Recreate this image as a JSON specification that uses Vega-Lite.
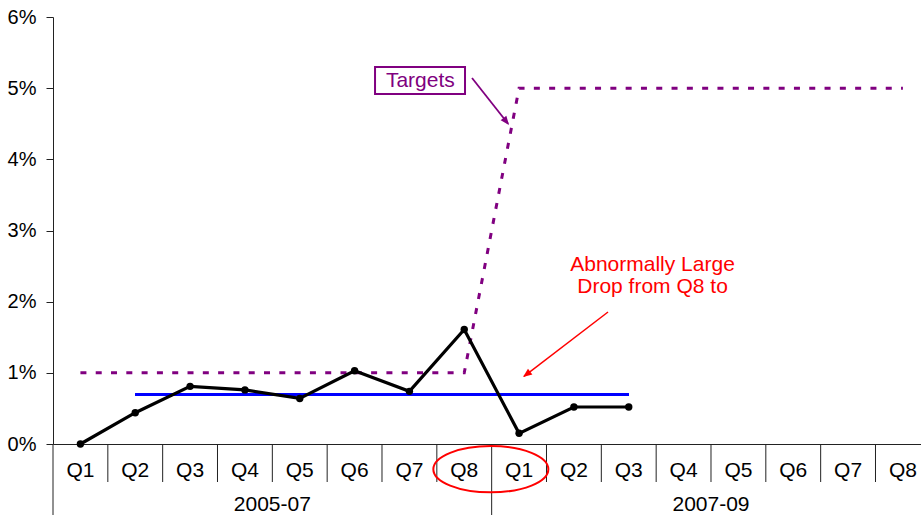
{
  "$schema": "https://vega.github.io/schema/vega-lite/v6.json",
  "width": 868,
  "height": 427,
  "autosize": {"type": "none"},
  "padding": {"left": 53, "top": 17, "right": 0, "bottom": 71},
  "background": "white",
  "config": {"font": "Liberation Sans", "view": {"stroke": null}},
  "datasets": {
    "quarters": [
      {"period": "2005-07", "quarter": "Q1", "pos": 0.5, "actual": 0.0, "target": 1},
      {"period": "2005-07", "quarter": "Q2", "pos": 1.5, "actual": 0.44, "target": 1},
      {"period": "2005-07", "quarter": "Q3", "pos": 2.5, "actual": 0.81, "target": 1},
      {"period": "2005-07", "quarter": "Q4", "pos": 3.5, "actual": 0.76, "target": 1},
      {"period": "2005-07", "quarter": "Q5", "pos": 4.5, "actual": 0.64, "target": 1},
      {"period": "2005-07", "quarter": "Q6", "pos": 5.5, "actual": 1.03, "target": 1},
      {"period": "2005-07", "quarter": "Q7", "pos": 6.5, "actual": 0.74, "target": 1},
      {"period": "2005-07", "quarter": "Q8", "pos": 7.5, "actual": 1.61, "target": 1},
      {"period": "2007-09", "quarter": "Q1", "pos": 8.5, "actual": 0.15, "target": 5},
      {"period": "2007-09", "quarter": "Q2", "pos": 9.5, "actual": 0.52, "target": 5},
      {"period": "2007-09", "quarter": "Q3", "pos": 10.5, "actual": 0.52, "target": 5},
      {"period": "2007-09", "quarter": "Q4", "pos": 11.5, "actual": null, "target": 5},
      {"period": "2007-09", "quarter": "Q5", "pos": 12.5, "actual": null, "target": 5},
      {"period": "2007-09", "quarter": "Q6", "pos": 13.5, "actual": null, "target": 5},
      {"period": "2007-09", "quarter": "Q7", "pos": 14.5, "actual": null, "target": 5},
      {"period": "2007-09", "quarter": "Q8", "pos": 15.5, "actual": null, "target": 5}
    ],
    "bounds": [
      {"b": 0, "type": "period"},
      {"b": 1, "type": "quarter"},
      {"b": 2, "type": "quarter"},
      {"b": 3, "type": "quarter"},
      {"b": 4, "type": "quarter"},
      {"b": 5, "type": "quarter"},
      {"b": 6, "type": "quarter"},
      {"b": 7, "type": "quarter"},
      {"b": 8, "type": "period"},
      {"b": 9, "type": "quarter"},
      {"b": 10, "type": "quarter"},
      {"b": 11, "type": "quarter"},
      {"b": 12, "type": "quarter"},
      {"b": 13, "type": "quarter"},
      {"b": 14, "type": "quarter"},
      {"b": 15, "type": "quarter"}
    ],
    "periods": [
      {"period": "2005-07", "center": 4},
      {"period": "2007-09", "center": 12}
    ]
  },
  "layer": [
    {
      "data": {"name": "bounds"},
      "transform": [{"filter": "datum.type === 'quarter'"}],
      "mark": {"type": "rule", "color": "#222222", "strokeWidth": 1},
      "encoding": {
        "x": {"field": "b", "type": "quantitative", "scale": {"domain": [0, 15.83], "nice": false, "zero": false},
              "axis": {"labels": false, "ticks": false, "grid": false, "domain": true, "domainColor": "#222222", "title": null}},
        "y": {"datum": 0, "type": "quantitative", "scale": {"domain": [0, 6], "nice": false},
              "axis": {"values": [0, 1, 2, 3, 4, 5, 6], "labelExpr": "datum.value + '%'", "grid": false, "domainColor": "#222222", "tickColor": "#222222", "tickSize": 7, "labelPadding": 10, "labelFontSize": 20, "labelColor": "black", "title": null}},
        "y2": {"datum": -0.534}
      }
    },
    {
      "data": {"name": "bounds"},
      "transform": [{"filter": "datum.type === 'period'"}],
      "mark": {"type": "rule", "color": "#222222", "strokeWidth": 1},
      "encoding": {
        "x": {"field": "b", "type": "quantitative"},
        "y": {"datum": 0, "type": "quantitative"},
        "y2": {"datum": -1}
      }
    },
    {
      "data": {"name": "quarters"},
      "mark": {"type": "text", "fontSize": 21, "color": "black", "baseline": "alphabetic", "align": "center", "dy": 33},
      "encoding": {
        "x": {"field": "pos", "type": "quantitative"},
        "y": {"datum": 0, "type": "quantitative"},
        "text": {"field": "quarter"}
      }
    },
    {
      "data": {"name": "periods"},
      "mark": {"type": "text", "fontSize": 21, "color": "black", "baseline": "alphabetic", "align": "center", "dy": 67},
      "encoding": {
        "x": {"field": "center", "type": "quantitative"},
        "y": {"datum": 0, "type": "quantitative"},
        "text": {"field": "period"}
      }
    },
    {
      "data": {"name": "quarters"},
      "mark": {"type": "line", "color": "#800080", "strokeWidth": 3, "strokeDash": [6, 9.3]},
      "encoding": {
        "x": {"field": "pos", "type": "quantitative"},
        "y": {"field": "target", "type": "quantitative"}
      }
    },
    {
      "data": {"name": "quarters"},
      "mark": {"type": "rule", "color": "#0000FF", "strokeWidth": 2.3},
      "encoding": {
        "x": {"datum": 1.5, "type": "quantitative"},
        "x2": {"datum": 10.5},
        "y": {"datum": 0.69, "type": "quantitative"}
      }
    },
    {
      "data": {"name": "quarters"},
      "transform": [{"filter": "isValid(datum.actual)"}],
      "mark": {"type": "line", "color": "black", "strokeWidth": 3.2, "point": {"filled": true, "size": 55, "color": "black"}},
      "encoding": {
        "x": {"field": "pos", "type": "quantitative"},
        "y": {"field": "actual", "type": "quantitative"}
      }
    },
    {
      "data": {"values": [{}]},
      "mark": {"type": "rect", "fill": "white", "stroke": "#800080", "strokeWidth": 2},
      "encoding": {
        "x": {"datum": 5.873, "type": "quantitative"},
        "x2": {"datum": 7.514},
        "y": {"datum": 5.297, "type": "quantitative"},
        "y2": {"datum": 4.918}
      }
    },
    {
      "data": {"values": [{}]},
      "mark": {"type": "text", "text": "Targets", "fontSize": 21, "color": "#800080", "align": "center", "baseline": "middle"},
      "encoding": {
        "x": {"datum": 6.70, "type": "quantitative"},
        "y": {"datum": 5.107, "type": "quantitative"}
      }
    },
    {
      "data": {"values": [{}]},
      "mark": {"type": "rule", "color": "#800080", "strokeWidth": 1.8},
      "encoding": {
        "x": {"datum": 7.642, "type": "quantitative"},
        "y": {"datum": 5.143, "type": "quantitative"},
        "x2": {"datum": 8.30},
        "y2": {"datum": 4.50}
      }
    },
    {
      "data": {"values": [{}]},
      "mark": {"type": "point", "shape": "M0,0L-0.4,1L0.4,1Z", "size": 324, "filled": true, "color": "#800080", "opacity": 1, "angle": 141.8},
      "encoding": {
        "x": {"datum": 8.317, "type": "quantitative"},
        "y": {"datum": 4.482, "type": "quantitative"}
      }
    },
    {
      "data": {"values": [{}]},
      "mark": {"type": "rule", "color": "#FF0000", "strokeWidth": 1.5},
      "encoding": {
        "x": {"datum": 10.122, "type": "quantitative"},
        "y": {"datum": 1.855, "type": "quantitative"},
        "x2": {"datum": 8.59},
        "y2": {"datum": 0.95}
      }
    },
    {
      "data": {"values": [{}]},
      "mark": {"type": "point", "shape": "M0,0L-0.4,1L0.4,1Z", "size": 324, "filled": true, "color": "#FF0000", "opacity": 1, "angle": 232.6},
      "encoding": {
        "x": {"datum": 8.572, "type": "quantitative"},
        "y": {"datum": 0.941, "type": "quantitative"}
      }
    },
    {
      "data": {"values": [{}]},
      "mark": {"type": "text", "text": ["Abnormally Large", "Drop from Q8 to"], "fontSize": 21, "lineHeight": 22, "color": "#FF0000", "align": "center", "baseline": "middle"},
      "encoding": {
        "x": {"datum": 10.934, "type": "quantitative"},
        "y": {"datum": 2.515, "type": "quantitative"}
      }
    },
    {
      "data": {"values": [{}]},
      "mark": {"type": "point", "shape": "M-1,0A1,0.403,0,1,0,1,0A1,0.403,0,1,0,-1,0Z", "size": 13225, "filled": false, "color": "#FF0000", "strokeWidth": 2, "opacity": 1},
      "encoding": {
        "x": {"datum": 7.985, "type": "quantitative"},
        "y": {"datum": -0.354, "type": "quantitative"}
      }
    }
  ]
}
